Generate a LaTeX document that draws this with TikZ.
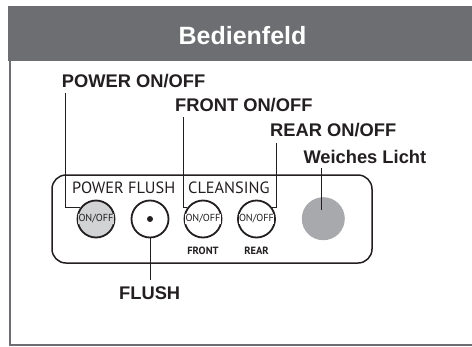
\documentclass[tikz,border=0pt]{standalone}
\usepackage{fontspec}
\setmainfont{Liberation Sans}
\newfontfamily\panelfont{PT Sans}
\definecolor{hdr}{HTML}{6D6E71}
\definecolor{ink}{HTML}{231F20}
\definecolor{btngray}{HTML}{D1D3D4}
\definecolor{softgray}{HTML}{A7A9AC}
\begin{document}
\begin{tikzpicture}[x=1pt,y=-1pt,
 lbl/.style={anchor=base west, inner sep=0, font=\fontsize{18.3}{18}\selectfont\bfseries, text=ink},
 leader/.style={draw=ink, line width=0.9pt},
 btn/.style={circle, draw=ink, line width=1.8pt, minimum size=37pt, inner sep=0, fill=white},
 btntext/.style={inner sep=0.3pt, font=\panelfont\fontsize{10.2}{10.2}\selectfont, text=ink},
 sub/.style={anchor=base, inner sep=0, font=\panelfont\bfseries\fontsize{10.5}{10.5}\selectfont, text=ink},
 paneltext/.style={anchor=base west, inner sep=0, font=\panelfont\fontsize{16.3}{16}\selectfont, text=ink}]
\useasboundingbox (0,0) rectangle (472,346);
\fill[white] (0,0) rectangle (472,346);
% header and frame
\fill[hdr] (8,6) rectangle (472,61);
\node[anchor=base, text=white, font=\fontsize{25}{25}\selectfont\bfseries, inner sep=0] (title) at (242.5,44) {Bedienfeld};
\draw[hdr, line width=2pt] (9.5,61) -- (9.5,344.5) -- (472,344.5);
% panel
\draw[ink, line width=1.5pt, rounded corners=14pt] (52,175) rectangle (372,263);
\node[paneltext] (tpf) at (72,193) {POWER FLUSH};
\node[paneltext] (tcl) at (188,193) {CLEANSING};
% buttons
\node[btn, fill=btngray] (pwr) at (96,219) {};
\node[btntext, fill=btngray] (pwrt) at (pwr.center) {ON/OFF};
\node[btn] (flush) at (150,219) {};
\fill[ink] (flush.center) circle (3);
\node[btn] (front) at (203,219) {};
\node[btntext, fill=white] (frontt) at (front.center) {ON/OFF};
\node[btn] (rear) at (256.5,219) {};
\node[btntext, fill=white] (reart) at (rear.center) {ON/OFF};
\node[circle, fill=softgray, minimum size=43pt, inner sep=0] (licht) at (323.3,218.7) {};
\node[sub] (sfront) at (203,254) {FRONT};
\node[sub] (srear) at (256.5,254) {REAR};
% labels
\node[lbl] (lpwr) at (61.7,87.7) {POWER ON/OFF};
\node[lbl] (lfront) at (175,111.7) {FRONT ON/OFF};
\node[lbl] (lrear) at (270,136.7) {REAR ON/OFF};
\node[lbl] (llicht) at (303.3,163.3) {Weiches Licht};
\node[lbl] (lflush) at (119,299) {FLUSH};
% leaders
\coordinate (p1) at (65.7,93);
\coordinate (f1) at (183.3,117);
\coordinate (r1) at (276.7,143);
\coordinate (w1) at (321.7,168);
\coordinate (w2) at (321.7,210);
\coordinate (fl1) at (150,280);
\draw[leader] (p1) |- (pwr.144);
\draw[leader] (f1) |- (front.144);
\draw[leader] (r1) |- (rear.36);
\draw[leader] (w1) -- (w2);
\draw[leader] (flush.south) -- (fl1);
\end{tikzpicture}
\end{document}
